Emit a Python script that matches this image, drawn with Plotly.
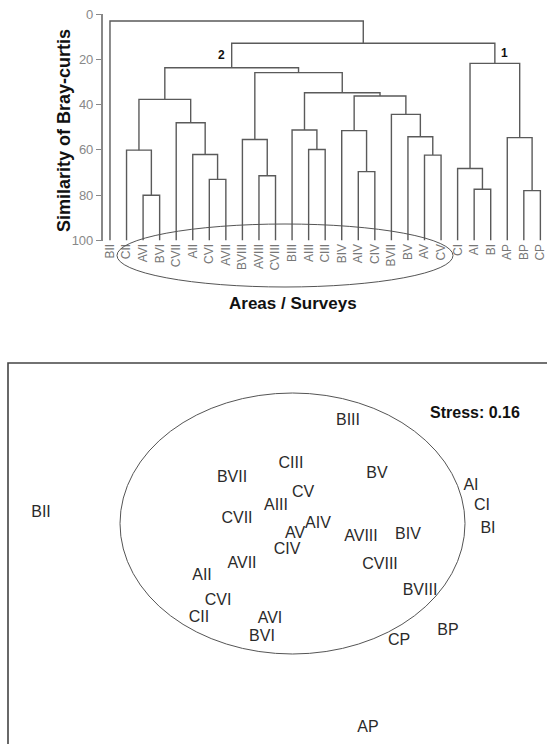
import plotly.graph_objects as go

# ---------------- data ----------------
leaf_labels = ["BII", "CII", "AVI", "BVI", "CVII", "AII", "CVI", "AVII", "BVIII",
               "AVIII", "CVIII", "BIII", "AIII", "CIII", "BIV", "AIV", "CIV", "BVII",
               "BV", "AV", "CV", "CI", "AI", "BI", "AP", "BP", "CP"]

# merges: (left node, right node, similarity level); leaves are 0..26, merges 27..
merge_left = [2, 1, 6, 5, 4, 28, 9, 8, 12, 11, 15, 14, 19, 18, 17, 38, 36, 34, 32, 22, 21, 25, 24, 47, 45, 0]
merge_right = [3, 27, 7, 29, 30, 31, 10, 33, 13, 35, 16, 37, 20, 39, 40, 41, 42, 43, 44, 23, 46, 26, 48, 49, 50, 51]
merge_height = [80.0, 60.1, 73.0, 62.0, 48.0, 37.7, 71.4, 55.4, 59.8, 51.2, 69.6, 51.5,
                62.3, 54.2, 44.3, 36.2, 34.8, 25.9, 23.7, 77.4, 68.2, 78.0, 54.6, 21.8, 12.9, 3.1]
group_labels = {"2": 45, "1": 50}

y_ticks = [0, 20, 40, 60, 80, 100]

mds_labels = ["BII", "BIII", "CIII", "BVII", "BV", "CV", "AIII", "CVII", "AI", "CI", "BI",
              "AIV", "AV", "AVIII", "BIV", "CIV", "AVII", "AII", "CVIII", "CVI", "BVIII",
              "CII", "AVI", "BVI", "BP", "CP", "AP"]
mds_x = [-2.49, 0.58, 0.01, -0.58, 0.87, 0.13, -0.14, -0.53, 1.81, 1.92, 1.98,
         0.28, 0.05, 0.71, 1.18, -0.03, -0.48, -0.88, 0.90, -0.72, 1.30,
         -0.91, -0.20, -0.28, 1.58, 1.09, 0.78]
mds_y = [0.07, 0.99, 0.56, 0.42, 0.46, 0.27, 0.14, 0.01, 0.34, 0.14, -0.09,
         -0.04, -0.14, -0.17, -0.15, -0.30, -0.44, -0.56, -0.45, -0.81, -0.71,
         -0.98, -0.99, -1.17, -1.11, -1.21, -2.08]
stress_text = "Stress: 0.16"

# ---------------- build dendrogram ----------------
n = len(leaf_labels)
node_x = {i: float(i) for i in range(n)}
node_h = {i: 100.0 for i in range(n)}
lx, ly = [], []
for k, (a, b, h) in enumerate(zip(merge_left, merge_right, merge_height)):
    nid = n + k
    xa, xb = node_x[a], node_x[b]
    lx += [xa, xa, xb, xb, None]
    ly += [node_h[a], h, h, node_h[b], None]
    node_x[nid] = (xa + xb) / 2
    node_h[nid] = h

parent_h = {}
for k, (a, b, h) in enumerate(zip(merge_left, merge_right, merge_height)):
    parent_h[a] = h
    parent_h[b] = h

W, H = 547, 744
def px(x):
    return x / W
def py(y):
    return 1 - y / H

FONT = "Liberation Sans, Arial, sans-serif"
LINE = "#5a5a5a"

fig = go.Figure()
fig.add_trace(go.Scatter(x=lx, y=ly, mode="lines", line=dict(color=LINE, width=1.4),
                         hoverinfo="skip", showlegend=False, xaxis="x", yaxis="y"))

fig.add_trace(go.Scatter(x=mds_x, y=mds_y, mode="text", text=mds_labels,
                         textfont=dict(family=FONT, size=16, color="#2a2a2a"),
                         textposition="middle center", showlegend=False,
                         xaxis="x2", yaxis="y2"))

annotations = []
for lab, nid in group_labels.items():
    yy = (node_h[nid] + parent_h[nid]) / 2
    annotations.append(dict(x=node_x[nid], y=yy, xref="x", yref="y", text="<b>%s</b>" % lab,
                            showarrow=False, xshift=-10 if lab == "2" else 10,
                            xanchor="center", yanchor="middle",
                            font=dict(family=FONT, size=12, color="#111")))
annotations.append(dict(x=px(64), y=py(131), xref="paper", yref="paper",
                        xanchor="center", yanchor="middle",
                        text="<b>Similarity of Bray-curtis</b>", textangle=-90, showarrow=False,
                        font=dict(family=FONT, size=18, color="#111")))
annotations.append(dict(x=px(293), y=py(303), xref="paper", yref="paper",
                        xanchor="center", yanchor="middle",
                        text="<b>Areas / Surveys</b>", showarrow=False,
                        font=dict(family=FONT, size=17, color="#111")))
annotations.append(dict(x=1.85, y=1.08, xref="x2", yref="y2", text="<b>%s</b>" % stress_text,
                        xanchor="center", yanchor="middle",
                        showarrow=False, font=dict(family=FONT, size=16, color="#111")))

shapes = [
    dict(type="circle", xref="paper", yref="paper", x0=px(117), x1=px(453),
         y0=py(287), y1=py(224), line=dict(color="#555", width=1)),
    dict(type="circle", xref="x2", yref="y2", x0=-1.70, x1=1.75, y0=-1.34, y1=1.27,
         line=dict(color="#555", width=1)),
    dict(type="rect", xref="paper", yref="paper", x0=px(8), x1=1.02, y0=-0.02, y1=py(363),
         line=dict(color="#444", width=1.6)),
]

fig.update_layout(
    width=W, height=H, margin=dict(l=0, r=0, t=0, b=0),
    paper_bgcolor="white", plot_bgcolor="white",
    xaxis=dict(domain=[px(102.7), 1], range=[-0.44, 26.4], tickmode="array",
               tickvals=list(range(n)), ticktext=leaf_labels, tickangle=-90,
               showgrid=False, zeroline=False, showline=False, ticks="",
               tickfont=dict(family=FONT, size=12, color="#777"), anchor="y",
               automargin=False, ticklabeloverflow="allow"),
    yaxis=dict(domain=[py(240.5), py(14)], range=[100, 0], tickmode="array",
               tickvals=y_ticks, showgrid=False, zeroline=False, showline=True,
               linecolor="#888", linewidth=1.5, ticks="outside", ticklen=5,
               tickcolor="#888", tickwidth=1.2, automargin=False,
               ticklabeloverflow="allow",
               tickfont=dict(family=FONT, size=13, color="#888"), anchor="x"),
    xaxis2=dict(domain=[px(8), 1], range=[-2.82, 2.57], visible=False, anchor="y2"),
    yaxis2=dict(domain=[0, py(363)], range=[-2.24, 1.57], visible=False, anchor="x2"),
    annotations=annotations, shapes=shapes, showlegend=False,
)

fig.write_html("out.html", config={"displayModeBar": False},
               post_script="document.body.style.margin='0';document.body.style.overflow='hidden';")
